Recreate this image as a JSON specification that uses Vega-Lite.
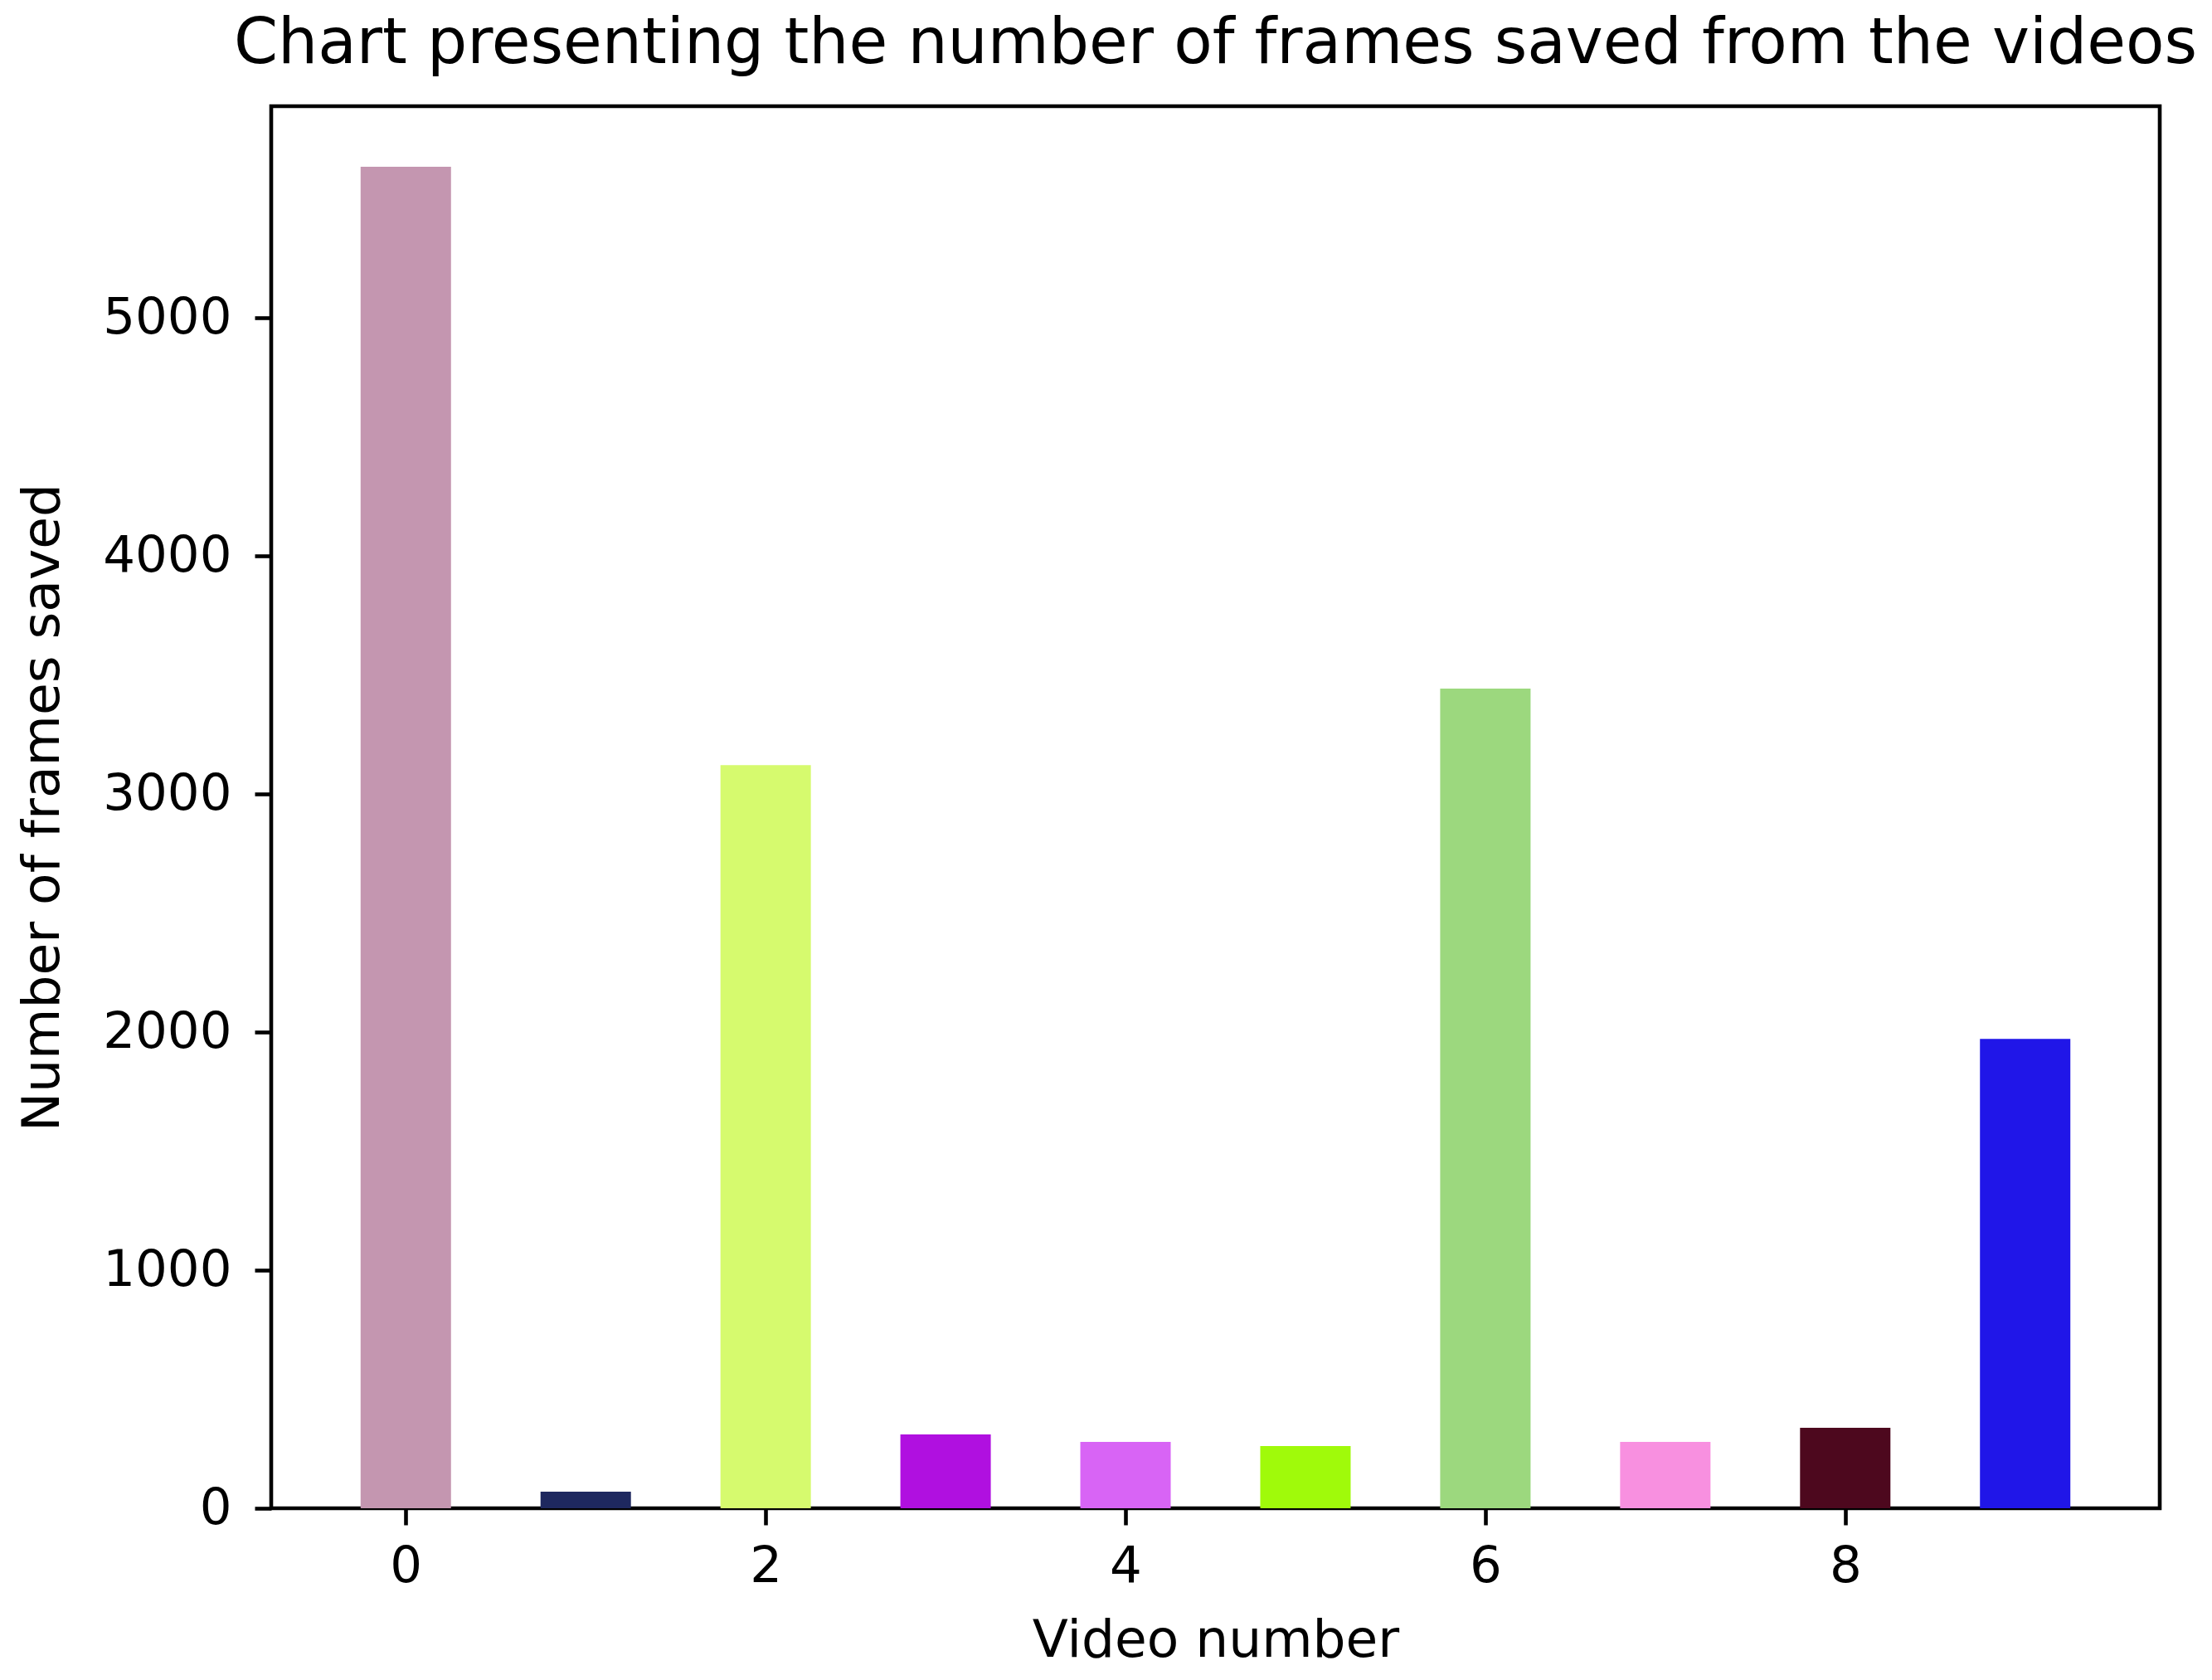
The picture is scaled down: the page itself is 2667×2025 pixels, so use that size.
{
  "$schema": "https://vega.github.io/schema/vega-lite/v6.json",
  "autosize": "none",
  "width": 2277,
  "height": 1690,
  "padding": {"left": 327, "top": 128, "right": 63, "bottom": 207},
  "background": "white",
  "title": {
    "text": "Chart presenting the number of frames saved from the videos",
    "font": "DejaVu Sans",
    "fontSize": 76,
    "fontWeight": "normal",
    "color": "black",
    "anchor": "middle",
    "offset": 36
  },
  "data": {
    "values": [
      {"video": 0, "frames": 5636},
      {"video": 1, "frames": 70},
      {"video": 2, "frames": 3122},
      {"video": 3, "frames": 310},
      {"video": 4, "frames": 279},
      {"video": 5, "frames": 261},
      {"video": 6, "frames": 3443},
      {"video": 7, "frames": 279},
      {"video": 8, "frames": 338},
      {"video": 9, "frames": 1972}
    ]
  },
  "mark": {"type": "bar", "width": 109},
  "encoding": {
    "x": {
      "field": "video",
      "type": "quantitative",
      "scale": {"domain": [-0.725, 9.725], "nice": false, "zero": false},
      "axis": {
        "title": "Video number",
        "values": [0, 2, 4, 6, 8],
        "format": "d",
        "grid": false,
        "domain": false,
        "tickColor": "black",
        "tickWidth": 4.6,
        "tickSize": 20,
        "labelPadding": 20,
        "labelFont": "DejaVu Sans",
        "labelFontSize": 61,
        "labelColor": "black",
        "titleFont": "DejaVu Sans",
        "titleFontSize": 63,
        "titleFontWeight": "normal",
        "titleColor": "black",
        "titlePadding": 28
      }
    },
    "y": {
      "field": "frames",
      "type": "quantitative",
      "scale": {"domain": [0, 5890], "nice": false},
      "axis": {
        "title": "Number of frames saved",
        "values": [0, 1000, 2000, 3000, 4000, 5000],
        "format": "d",
        "grid": false,
        "domain": false,
        "tickColor": "black",
        "tickWidth": 4.6,
        "tickSize": 20,
        "labelPadding": 28,
        "labelFont": "DejaVu Sans",
        "labelFontSize": 61,
        "labelColor": "black",
        "titleFont": "DejaVu Sans",
        "titleFontSize": 63,
        "titleFontWeight": "normal",
        "titleColor": "black",
        "titlePadding": 44
      }
    },
    "color": {
      "field": "video",
      "type": "nominal",
      "legend": null,
      "scale": {
        "domain": [0, 1, 2, 3, 4, 5, 6, 7, 8, 9],
        "range": ["#c496b0", "#1e285f", "#d6fa6e", "#b010e0", "#d864f5", "#a0fa0a", "#9cd87e", "#f890e0", "#4d081e", "#2016e8"]
      }
    }
  },
  "config": {
    "view": {"stroke": "black", "strokeWidth": 4.6, "fill": "white"}
  }
}
